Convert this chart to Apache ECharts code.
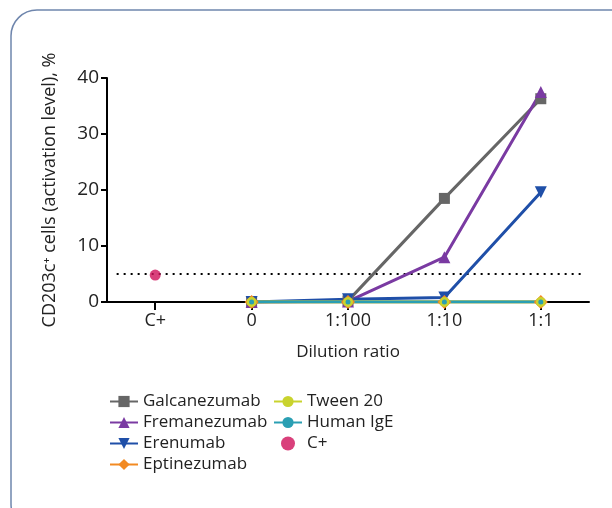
<!DOCTYPE html>
<html><head><meta charset="utf-8">
<script src="https://cdn.jsdelivr.net/npm/echarts@6/dist/echarts.min.js"></script>
<style>html,body{margin:0;padding:0;background:#fff}#c{width:612px;height:508px}</style>
</head><body><div id="c"></div>
<script>
const categories = ['C+', '0', '1:100', '1:10', '1:1'];
const galcanezumab = [null, 0, 0.2, 18.5, 36.3];
const fremanezumab = [null, 0, 0.1, 8.0, 37.5];
const erenumab = [null, 0, 0.5, 0.8, 19.6];
const eptinezumab = [null, 0, 0, 0, 0];
const tween20 = [null, 0, 0, 0, 0];
const humanIgE = [null, 0, 0, 0, 0];
const cPlus = [4.8, null, null, null, null];
const threshold = 5;
const thresholdSpan = [-0.4, 4.45];
const yTicks = [0, 10, 20, 30, 40];

const font = "'Open Sans', 'Noto Sans', sans-serif";
const catIdx = categories.map((c, i) => i);
function pairs(arr) {
  return arr.map((v, i) => [i, v]).filter(p => p[1] !== null);
}
const chart = echarts.init(document.getElementById('c'));
function lineSeries(name, data, color, symbol, size) {
  return {name, type: 'line', data: pairs(data), color, symbol, symbolSize: size,
    lineStyle: {width: 3, color}, itemStyle: {color}, z: 3, animation: false};
}
chart.setOption({
  animation: false,
  graphic: [{type: 'rect', shape: {x: 11, y: 10, width: 640, height: 520, r: 26},
    style: {fill: 'none', stroke: '#6f86ad', lineWidth: 1.5}, silent: true}],
  grid: {left: 107, right: 23, top: 78, bottom: 206},
  xAxis: {type: 'value', min: -0.5, max: 4.5,
    name: 'Dilution ratio', nameLocation: 'middle', nameGap: 42,
    nameTextStyle: {fontFamily: font, fontSize: 17, color: '#222'},
    axisLine: {onZero: false, lineStyle: {color: '#000', width: 2}},
    axisTick: {show: true, inside: false, customValues: catIdx, length: 8, lineStyle: {color: '#000', width: 2}},
    axisLabel: {customValues: catIdx, formatter: v => categories[Math.round(v)],
      fontFamily: font, fontSize: 18, color: '#222', margin: 10},
    splitLine: {show: false}},
  yAxis: {type: 'value', min: yTicks[0], max: yTicks[yTicks.length - 1], interval: 10,
    name: 'CD203c\u207A cells (activation level), %', nameLocation: 'middle', nameGap: 48,
    nameTextStyle: {fontFamily: font, fontSize: 18, color: '#222'},
    axisLine: {show: true, onZero: false, lineStyle: {color: '#000', width: 2}},
    axisTick: {show: true, length: 6, lineStyle: {color: '#000', width: 2}},
    axisLabel: {fontFamily: font, fontSize: 19, color: '#222', margin: 8},
    splitLine: {show: false}},
  legend: [
    {data: ['Galcanezumab', 'Fremanezumab', 'Erenumab', 'Eptinezumab'], orient: 'vertical',
     left: 104, top: 388, itemGap: 4, itemWidth: 28, itemHeight: 14,
     textStyle: {fontFamily: font, fontSize: 17, color: '#222'}},
    {data: ['Tween 20', 'Human IgE', 'C+'], orient: 'vertical',
     left: 268, top: 388, itemGap: 4, itemWidth: 28, itemHeight: 14,
     textStyle: {fontFamily: font, fontSize: 17, color: '#222'}}
  ],
  series: [
    {name: 'threshold', type: 'line', symbol: 'none', silent: true, z: 2,
     data: [[thresholdSpan[0], threshold], [thresholdSpan[1], threshold]],
     lineStyle: {type: [2, 5], color: '#000', width: 2}},
    lineSeries('Galcanezumab', galcanezumab, '#666666', 'rect', 11),
    lineSeries('Fremanezumab', fremanezumab, '#7a3aa2', 'triangle', 12),
    Object.assign(lineSeries('Erenumab', erenumab, '#1f4fa8', 'triangle', 12), {symbolRotate: 180}),
    lineSeries('Eptinezumab', eptinezumab, '#f28a22', 'diamond', 14),
    lineSeries('Tween 20', tween20, '#c9d32e', 'circle', 10),
    lineSeries('Human IgE', humanIgE, '#2a9fb3', 'circle', 5),
    {name: 'C+', type: 'scatter', data: pairs(cPlus), symbol: 'circle', symbolSize: 11,
     itemStyle: {color: '#d0105a'}, z: 4}
  ]
});
</script></body></html>
